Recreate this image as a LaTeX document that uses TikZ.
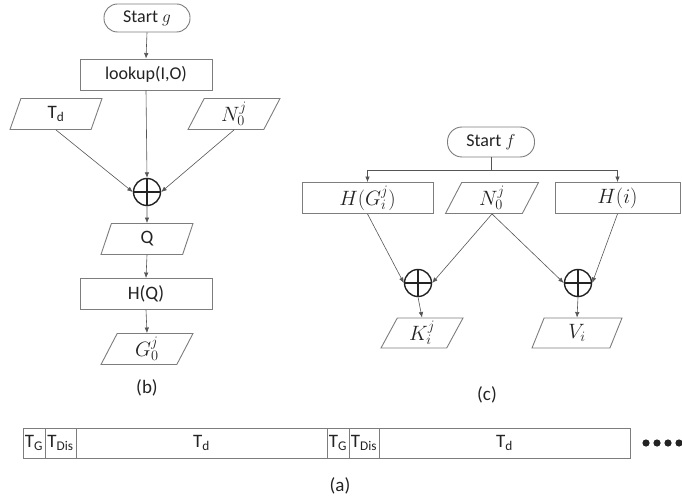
\documentclass[tikz,border=0pt]{standalone}
\usepackage{fontspec}
\setmainfont{Carlito}
\usetikzlibrary{shapes.geometric,arrows.meta}
\definecolor{boxgray}{RGB}{125,125,125}
\definecolor{arrc}{RGB}{85,85,85}
\definecolor{xorc}{RGB}{35,35,35}
\definecolor{txt}{RGB}{35,35,35}
\begin{document}
\begin{tikzpicture}[x=1pt,y=-1pt,
  every node/.style={text=txt},
  big/.style={font=\fontsize{19}{22}\selectfont},
  mth/.style={font=\fontsize{20.5}{24}\selectfont},
  mid/.style={font=\fontsize{18}{21}\selectfont},
  box/.style={draw=boxgray, line width=0.9pt, rectangle, minimum width=132pt, minimum height=31pt, inner sep=0pt},
  term/.style={draw=boxgray, line width=0.9pt, rectangle, rounded corners=13.5pt, minimum width=86pt, minimum height=28pt, inner sep=0pt},
  para/.style={draw=boxgray, line width=0.9pt, trapezium, trapezium left angle=55, trapezium right angle=125, trapezium stretches body, minimum width=92pt, minimum height=31pt, inner sep=0pt},
  xor/.style={circle, draw=xorc, line width=1.4pt, minimum size=27pt, inner sep=0pt,
    path picture={\draw[xorc,line width=1.2pt] (path picture bounding box.north) -- (path picture bounding box.south) (path picture bounding box.west) -- (path picture bounding box.east);}},
  arr/.style={draw=arrc, line width=0.6pt, -{Latex[length=5.5pt,width=4.5pt]}},
  ln/.style={draw=arrc, line width=0.6pt},
  seg/.style={draw=boxgray, line width=0.8pt, rectangle, minimum height=30pt, inner sep=0pt, outer sep=0pt, anchor=west, font=\fontsize{19}{22}\selectfont}
]
\useasboundingbox (0,0) rectangle (682,502);

% ---------- (b) ----------
\node[term, mid] (sg) at (147,18) {Start $g$};
\node[box, mid] (lk) at (146,74.5) {lookup(I,O)};
\node[para, big] (td) at (56,114) {T\textsubscript{d}};
\node[para, mth] (nb) at (234,114) {$N_0^j$};
\node[xor] (xb) at (147,192) {};
\node[para, big] (q) at (147,239) {Q};
\node[box, big] (hq) at (146,294) {H(Q)};
\node[para, mth] (g0) at (147,349) {$G_0^j$};
\node[big] (lb) at (147,388) {(b)};

\draw[arr] (sg.south) -- (lk.north);
\draw[arr] (lk.south) -- (xb.north);
\draw[arr] (td.south) -- (xb.west);
\draw[arr] (nb.south) -- (xb.east);
\draw[arr] (xb.south) -- (q.north);
\draw[arr] (q.south) -- (hq.north);
\draw[arr] (hq.south) -- (g0.north);

% ---------- (c) ----------
\node[term, mid, minimum width=87pt, minimum height=30pt, rounded corners=14.5pt] (sf) at (491,142) {Start $f$};
\node[box, mth, minimum width=131pt] (hg) at (367.5,198) {$H(G_i^j)$};
\node[para, mth, minimum width=93pt] (nc) at (492,198) {$N_0^j$};
\node[box, mth, minimum width=125pt] (hi) at (617.5,198) {$H(i)$};
\node[xor] (x1) at (418,283) {};
\node[xor] (x2) at (578,283) {};
\node[para, mth, minimum width=82pt, minimum height=30pt] (ki) at (422,333) {$K_i^j$};
\node[para, mth, minimum width=90pt, minimum height=30pt] (vi) at (577,333) {$V_i$};
\node[big] (lc) at (487,395) {(c)};

\draw[ln] (sf.south) -- ++(0,13) coordinate (br);
\draw[arr] (br) -| (hg.north);
\draw[arr] (br) -| (hi.north);
\draw[arr] (hg.south) -- (x1.west);
\draw[arr] (nc.south) -- (x1.east);
\draw[arr] (nc.south) -- (x2.west);
\draw[arr] (hi.south) -- (x2.east);
\draw[arr] (x1.south) -- (ki.north);
\draw[arr] (x2.south) -- (vi.north);

% ---------- (a) ----------
\node[seg, minimum width=22pt] (tg1) at (23,443) {T\textsubscript{G}};
\node[seg, minimum width=31pt] (ts1) at (tg1.east) {T\textsubscript{Dis}};
\node[seg, minimum width=251pt] (tdd1) at (ts1.east) {T\textsubscript{d}};
\node[seg, minimum width=22pt] (tg2) at (tdd1.east) {T\textsubscript{G}};
\node[seg, minimum width=30pt] (ts2) at (tg2.east) {T\textsubscript{Dis}};
\node[seg, minimum width=251pt] (tdd2) at (ts2.east) {T\textsubscript{d}};
\foreach \xx in {646,657,668,679} \fill[xorc] (\xx,443) circle (3.6pt);
\node[big] (la) at (340,486) {(a)};
\end{tikzpicture}
\end{document}
